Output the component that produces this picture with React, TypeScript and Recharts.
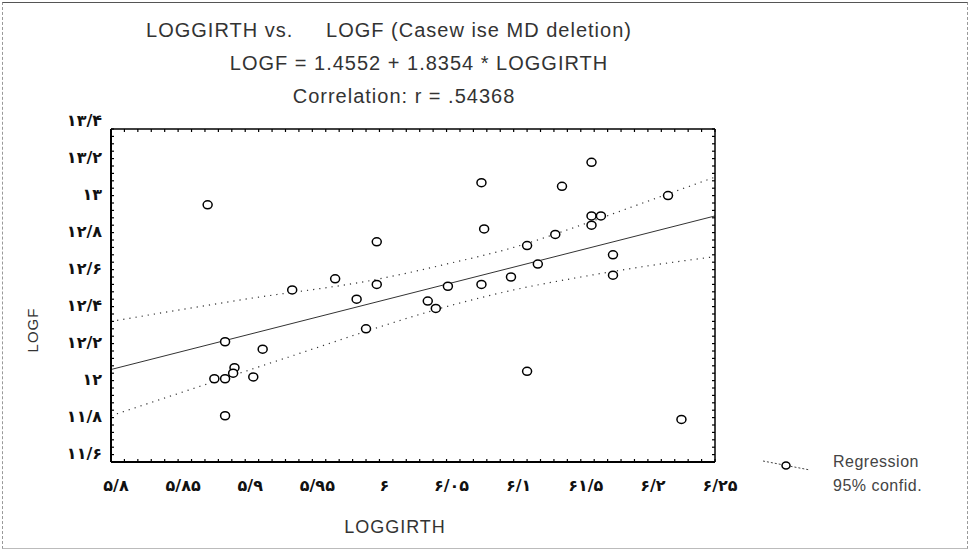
import React from "react";
import { ComposedChart, Scatter, Line, XAxis, YAxis } from "recharts";

// observed cases (LOGGIRTH, LOGF)
const loggirth = [
  5.872, 5.998, 5.967, 5.935, 5.998, 5.983, 6.036, 6.042, 5.99, 5.885, 5.913,
  5.892, 5.891, 5.877, 5.885, 5.906, 5.885, 6.158, 6.076, 6.136, 6.215, 6.158,
  6.165, 6.158, 6.078, 6.131, 6.11, 6.174, 6.118, 6.098, 6.174, 6.076, 6.051,
  6.11, 6.225,
];
const logf = [
  12.99, 12.79, 12.59, 12.53, 12.56, 12.48, 12.47, 12.43, 12.32, 12.25, 12.21,
  12.11, 12.08, 12.05, 12.05, 12.06, 11.85, 13.22, 13.11, 13.09, 13.04, 12.93,
  12.93, 12.88, 12.86, 12.83, 12.77, 12.72, 12.67, 12.6, 12.61, 12.56, 12.55,
  12.09, 11.83,
];

// fitted line and 95% bands
const regX = [5.8, 6.25];
const regY = [12.1, 12.93];
const upperX = [5.8, 5.9, 6.0, 6.05, 6.1, 6.15, 6.2, 6.25];
const upperY = [12.36, 12.48, 12.59, 12.67, 12.76, 12.88, 13.01, 13.14];
const lowerX = [5.8, 5.85, 5.9, 5.95, 6.0, 6.05, 6.1, 6.15, 6.2, 6.25];
const lowerY = [11.85, 11.97, 12.09, 12.21, 12.33, 12.44, 12.53, 12.6, 12.66, 12.71];

const xTicks = [5.8, 5.85, 5.9, 5.95, 6, 6.05, 6.1, 6.15, 6.2, 6.25];
const xTickLabels = ["۵/۸", "۵/۸۵", "۵/۹", "۵/۹۵", "۶", "۶/۰۵", "۶/۱", "۶۱/۵", "۶/۲", "۶/۲۵"];
const yTicks = [11.6, 11.8, 12, 12.2, 12.4, 12.6, 12.8, 13, 13.2, 13.4];
const yTickLabels = ["۱۱/۶", "۱۱/۸", "۱۲", "۱۲/۲", "۱۲/۴", "۱۲/۶", "۱۲/۸", "۱۳", "۱۳/۲", "۱۳/۴"];

// small inner ticks on the frame
const xMinor = Array.from({ length: 46 }, (_, i) => +(5.8 + i * 0.01).toFixed(2));
const yMinor = Array.from({ length: 46 }, (_, i) => +(11.6 + i * 0.04).toFixed(2));

const xDomain: [number, number] = [5.8, 6.25];
const yDomain: [number, number] = [11.6, 13.4];

const points = loggirth.map((x, i) => ({ x, y: logf[i] }));
const regLine = regX.map((x, i) => ({ x, y: regY[i] }));
const upperBand = upperX.map((x, i) => ({ x, y: upperY[i] }));
const lowerBand = lowerX.map((x, i) => ({ x, y: lowerY[i] }));

const latin = '"Liberation Sans", Arial, sans-serif';
const persian = '"DejaVu Sans", sans-serif';

const labelFor = (vals: number[], labels: string[], v: number) =>
  labels[vals.findIndex((t) => Math.abs(t - v) < 1e-9)] ?? "";

function XTick(props: any) {
  const { x, y, payload } = props;
  return (
    <text
      x={x + 5}
      y={y + 27}
      textAnchor="middle"
      fontFamily={persian}
      fontWeight="bold"
      fontSize={16}
      fill="#111"
    >
      {labelFor(xTicks, xTickLabels, payload.value)}
    </text>
  );
}

function YTick(props: any) {
  const { x, y, payload } = props;
  return (
    <text
      x={x - 7}
      y={y - 3}
      textAnchor="end"
      fontFamily={persian}
      fontWeight="bold"
      fontSize={16}
      fill="#111"
    >
      {labelFor(yTicks, yTickLabels, payload.value)}
    </text>
  );
}

const NoLabel = () => <g />;

const Ring = (props: any) => (
  <ellipse cx={props.cx} cy={props.cy} rx={4.5} ry={4} fill="#fff" stroke="#000" strokeWidth={1.5} />
);

const textStyle: React.CSSProperties = {
  position: "absolute",
  fontFamily: latin,
  color: "#333",
  whiteSpace: "pre",
  letterSpacing: 1,
};

export default function App() {
  return (
    <div style={{ position: "absolute", left: 0, top: 0, width: 972, height: 553, background: "#fff" }}>
      <div
        style={{
          position: "absolute",
          left: 2,
          top: 2,
          width: 964,
          height: 545,
          borderTop: "1px solid #555",
          borderLeft: "1px dashed #999",
          borderRight: "1px dashed #999",
          borderBottom: "1px solid #bbb",
        }}
      />

      <div style={{ ...textStyle, left: 389, top: 19, fontSize: 20, lineHeight: "22px", transform: "translateX(-50%)" }}>
        {"LOGGIRTH vs.     LOGF (Casew ise MD deletion)"}
      </div>
      <div style={{ ...textStyle, left: 419, top: 52, fontSize: 20, lineHeight: "22px", transform: "translateX(-50%)" }}>
        LOGF = 1.4552 + 1.8354 * LOGGIRTH
      </div>
      <div style={{ ...textStyle, left: 404, top: 85, fontSize: 20, lineHeight: "22px", transform: "translateX(-50%)" }}>
        Correlation: r = .54368
      </div>

      <ComposedChart
        width={972}
        height={553}
        margin={{ top: 129, right: 257, bottom: 51, left: 51 }}
        style={{ position: "absolute", left: 0, top: 0 }}
      >
        <XAxis
          xAxisId="b"
          dataKey="x"
          type="number"
          domain={xDomain}
          allowDataOverflow
          ticks={xTicks}
          interval={0}
          height={40}
          tickSize={0}
          tickLine={false}
          tick={<XTick />}
          axisLine={{ stroke: "#000", strokeWidth: 2 }}
        />
        <XAxis
          xAxisId="bm"
          dataKey="x"
          type="number"
          domain={xDomain}
          allowDataOverflow
          ticks={xMinor}
          interval={0}
          mirror
          height={1}
          tickSize={3}
          tick={NoLabel}
          axisLine={false}
          tickLine={{ stroke: "#000", strokeWidth: 1.2 }}
        />
        <XAxis
          xAxisId="t"
          orientation="top"
          dataKey="x"
          type="number"
          domain={xDomain}
          allowDataOverflow
          ticks={xMinor}
          interval={0}
          mirror
          height={1}
          tickSize={3}
          tick={NoLabel}
          axisLine={{ stroke: "#000", strokeWidth: 1.5 }}
          tickLine={{ stroke: "#000", strokeWidth: 1.2 }}
        />
        <YAxis
          yAxisId="l"
          dataKey="y"
          type="number"
          domain={yDomain}
          allowDataOverflow
          ticks={yTicks}
          interval={0}
          width={60}
          tickSize={0}
          tickLine={false}
          tick={<YTick />}
          axisLine={{ stroke: "#000", strokeWidth: 2 }}
        />
        <YAxis
          yAxisId="lm"
          dataKey="y"
          type="number"
          domain={yDomain}
          allowDataOverflow
          ticks={yMinor}
          interval={0}
          mirror
          width={1}
          tickSize={3}
          tick={NoLabel}
          axisLine={false}
          tickLine={{ stroke: "#000", strokeWidth: 1.2 }}
        />
        <YAxis
          yAxisId="r"
          orientation="right"
          dataKey="y"
          type="number"
          domain={yDomain}
          allowDataOverflow
          ticks={yMinor}
          interval={0}
          mirror
          width={1}
          tickSize={3}
          tick={NoLabel}
          axisLine={{ stroke: "#000", strokeWidth: 1.5 }}
          tickLine={{ stroke: "#000", strokeWidth: 1.2 }}
        />

        <Line
          xAxisId="b"
          yAxisId="l"
          data={upperBand}
          dataKey="y"
          type="monotone"
          dot={false}
          stroke="#333"
          strokeWidth={1.2}
          strokeDasharray="1.2 5"
          isAnimationActive={false}
        />
        <Line
          xAxisId="b"
          yAxisId="l"
          data={lowerBand}
          dataKey="y"
          type="monotone"
          dot={false}
          stroke="#333"
          strokeWidth={1.2}
          strokeDasharray="1.2 5"
          isAnimationActive={false}
        />
        <Line
          xAxisId="b"
          yAxisId="l"
          data={regLine}
          dataKey="y"
          type="linear"
          dot={false}
          stroke="#333"
          strokeWidth={1}
          isAnimationActive={false}
        />
        <Scatter xAxisId="b" yAxisId="l" data={points} shape={Ring} isAnimationActive={false} />
      </ComposedChart>

      <div
        style={{
          ...textStyle,
          left: 33,
          top: 330,
          fontSize: 15,
          lineHeight: "16px",
          transform: "translate(-50%, -50%) rotate(-90deg)",
        }}
      >
        LOGF
      </div>
      <div style={{ ...textStyle, left: 395, top: 517, fontSize: 18, lineHeight: "20px", transform: "translateX(-50%)" }}>
        LOGGIRTH
      </div>

      <svg width={60} height={20} style={{ position: "absolute", left: 758, top: 455 }}>
        <line x1={5} y1={6} x2={52} y2={15} stroke="#444" strokeWidth={1} strokeDasharray="2 2" />
        <ellipse cx={28} cy={10.5} rx={4} ry={3.5} fill="#fff" stroke="#000" strokeWidth={1.5} />
      </svg>
      <div style={{ ...textStyle, left: 833, top: 453, fontSize: 16, lineHeight: "18px", color: "#444", letterSpacing: 0.5 }}>
        Regression
      </div>
      <div style={{ ...textStyle, left: 833, top: 477, fontSize: 16, lineHeight: "18px", color: "#444", letterSpacing: 0.5 }}>
        95% confid.
      </div>
    </div>
  );
}
